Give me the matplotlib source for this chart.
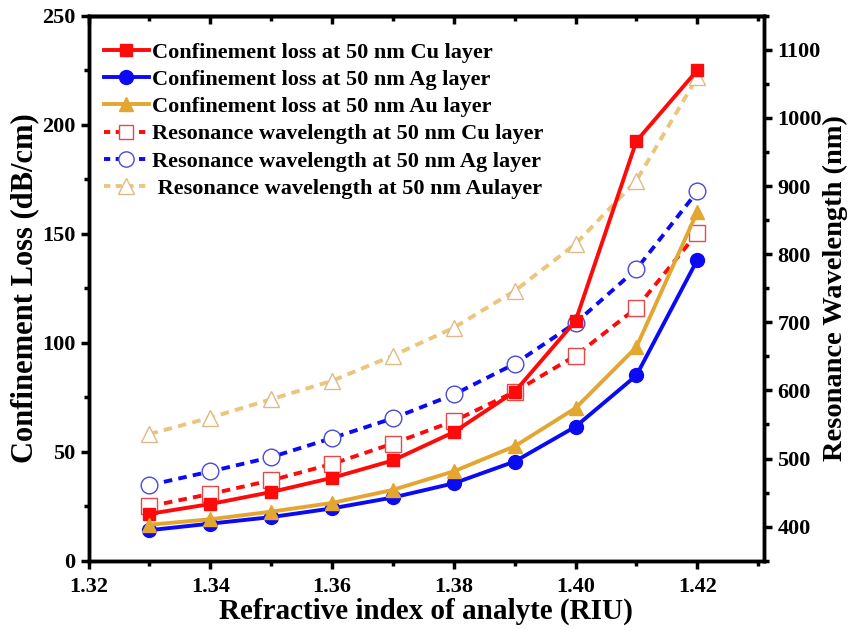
import matplotlib.pyplot as plt
from matplotlib.ticker import MultipleLocator

plt.rcParams['font.family'] = ['Liberation Serif', 'DejaVu Serif']
plt.rcParams['font.weight'] = 'bold'

ri = [1.33, 1.34, 1.35, 1.36, 1.37, 1.38, 1.39, 1.40, 1.41, 1.42]

# confinement loss (dB/cm)
cu_loss = [21.5, 26, 31.5, 38, 46, 59, 77.5, 110, 192.5, 225]
ag_loss = [14, 17, 20, 24, 29, 35.5, 45.5, 61.5, 85, 138]
au_loss = [16.5, 19, 22.5, 26.5, 32.5, 41, 52.5, 70, 98, 160]

# resonance wavelength (nm)
cu_wl = [430, 448, 468, 492, 522, 555, 598, 651, 721, 831]
ag_wl = [461, 481, 502, 530, 559, 594, 639, 699, 778, 892]
au_wl = [536, 560, 587, 614, 651, 692, 746, 815, 908, 1060]

red = '#FF0A0A'
blue = '#0A0AF5'
gold = '#E3A630'
tan = '#EBC57C'

fig = plt.figure(figsize=(8.52, 6.3), dpi=100)
ax = fig.add_axes([0.104, 0.11, 0.793, 0.865])
ax2 = ax.twinx()

l1, = ax.plot(ri, cu_loss, '-s', color=red, lw=2.8, ms=9, zorder=5,
              label='Confinement loss at 50 nm Cu layer')
l2, = ax.plot(ri, ag_loss, '-o', color=blue, lw=2.8, ms=10, zorder=5,
              label='Confinement loss at 50 nm Ag layer')
l3, = ax.plot(ri, au_loss, '-^', color=gold, lw=2.8, ms=10, zorder=5,
              label='Confinement loss at 50 nm Au layer')

ax2.plot(ri, cu_wl, '--s', color=red, lw=2.8, ms=11, mfc='white', mec='#E84848',
         mew=1.0, dashes=(2.2, 1.6))
ax2.plot(ri, ag_wl, '--o', color=blue, lw=2.8, ms=12, mfc='white', mec='#4A4AD8',
         mew=1.0, dashes=(2.2, 1.6))
ax2.plot(ri, au_wl, '--^', color=tan, lw=2.8, ms=12, mfc='white', mec='#DDBB88',
         mew=1.0, dashes=(2.2, 1.6))

# put the loss axis on top so filled markers cover hollow ones
ax.set_zorder(ax2.get_zorder() + 1)
ax.patch.set_visible(False)

h4, = ax.plot([], [], '--s', color=red, lw=2.8, ms=10, mfc='white', mec='#E84848',
              mew=1.0, dashes=(1.6, 1.4), label='Resonance wavelength at 50 nm Cu layer')
h5, = ax.plot([], [], '--o', color=blue, lw=2.8, ms=11, mfc='white', mec='#4A4AD8',
              mew=1.0, dashes=(1.6, 1.4), label='Resonance wavelength at 50 nm Ag layer')
h6, = ax.plot([], [], '--^', color=tan, lw=2.8, ms=11, mfc='white', mec='#DDBB88',
              mew=1.0, dashes=(1.6, 1.4), label=' Resonance wavelength at 50 nm Aulayer')

ax.set_xlim(1.32, 1.431)
ax.set_ylim(0, 250)
ax2.set_ylim(350, 1150)

ax.xaxis.set_major_locator(MultipleLocator(0.02))
ax.xaxis.set_minor_locator(MultipleLocator(0.01))
ax.yaxis.set_major_locator(MultipleLocator(50))
ax.yaxis.set_minor_locator(MultipleLocator(25))
ax2.yaxis.set_minor_locator(MultipleLocator(50))
ax2.set_yticks([400, 500, 600, 700, 800, 900, 1000, 1100])

ax.xaxis.set_major_formatter(plt.FuncFormatter(lambda v, p: f'{v:.2f}'))

for sp in list(ax.spines.values()) + list(ax2.spines.values()):
    sp.set_linewidth(2.5)

ax.tick_params(axis='both', which='major', direction='out', length=6, width=2.5,
               labelsize=16, top=False)
ax.tick_params(axis='both', which='minor', direction='out', length=3.5, width=2.5, top=False)
ax.tick_params(axis='x', which='major', pad=6)
ax2.tick_params(axis='y', which='major', direction='out', length=6, width=2.5, labelsize=16)
ax2.tick_params(axis='y', which='minor', direction='out', length=3.5, width=2.5)

# inward ticks along the top edge
top = ax.secondary_xaxis('top')
top.xaxis.set_major_locator(MultipleLocator(0.02))
top.xaxis.set_minor_locator(MultipleLocator(0.01))
top.tick_params(which='major', direction='in', length=6, width=2.5, labeltop=False)
top.tick_params(which='minor', direction='in', length=3.5, width=2.5)
top.spines['top'].set_linewidth(2.5)

ax.set_xlabel('Refractive index of analyte (RIU)', fontsize=21, fontweight='bold', labelpad=0)
ax.set_ylabel('Confinement Loss (dB/cm)', fontsize=22, fontweight='bold', labelpad=2)
ax2.set_ylabel('Resonance Wavelength (nm)', fontsize=20.5, fontweight='bold', labelpad=1)

ax.legend(handles=[l1, l2, l3, h4, h5, h6], loc='upper left', frameon=False,
          fontsize=16, handlelength=2.0, handletextpad=0.15, labelspacing=0.3,
          borderaxespad=0.3, bbox_to_anchor=(0.0, 0.98))

fig.savefig('out.png', dpi=100)
